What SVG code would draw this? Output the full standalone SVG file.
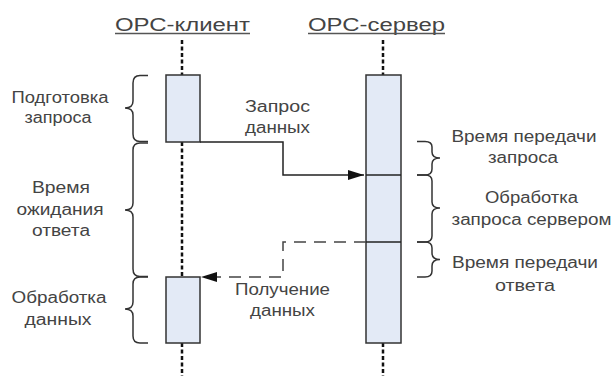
<svg xmlns="http://www.w3.org/2000/svg" width="613" height="376" viewBox="0 0 613 376">
<defs>
<style>
.t{font-family:"Liberation Sans",Arial,sans-serif;font-size:16px;fill:#444;text-anchor:middle}
.h{font-family:"Liberation Sans",Arial,sans-serif;font-size:18px;fill:#444;text-anchor:middle}
.ul{stroke:#555;stroke-width:1.5}
.life{stroke:#111;stroke-width:2.5;stroke-dasharray:4,2.5;fill:none}
.box{fill:#e3eaf6;stroke:#333;stroke-width:1.5}
.brace{fill:none;stroke:#333;stroke-width:1.5}
.msg{fill:none;stroke:#222;stroke-width:1.5}
.dash{fill:none;stroke:#444;stroke-width:1.5;stroke-dasharray:12,8}
</style>
<marker id="ah" viewBox="0 0 16 10" refX="16" refY="5" markerWidth="16" markerHeight="10" markerUnits="userSpaceOnUse" orient="auto">
<path d="M0,0 L16,5 L0,10 Z" fill="#111"/>
</marker>
</defs>
<rect width="613" height="376" fill="#fff"/>

<g id="lifelines">
<line class="life" x1="182" y1="40" x2="182" y2="75"/>
<line class="life" x1="182" y1="142" x2="182" y2="277"/>
<line class="life" x1="182" y1="343" x2="182" y2="376"/>
<line class="life" x1="383" y1="40" x2="383" y2="75"/>
<line class="life" x1="383" y1="343" x2="383" y2="376"/>
</g>

<g id="client-title">
<text class="h" x="182.5" y="31" textLength="135" lengthAdjust="spacingAndGlyphs">ОРС-клиент</text>
<line class="ul" x1="115" y1="33.5" x2="250" y2="33.5"/>
</g>
<g id="server-title">
<text class="h" x="376.5" y="31" textLength="137" lengthAdjust="spacingAndGlyphs">ОРС-сервер</text>
<line class="ul" x1="308" y1="33.5" x2="445" y2="33.5"/>
</g>

<g id="client-box-1"><rect class="box" x="166" y="75" width="34" height="67"/></g>
<g id="client-box-2"><rect class="box" x="166" y="277" width="34" height="66"/></g>
<g id="server-box">
<rect class="box" x="366" y="75" width="35" height="268"/>
<line class="msg" x1="366" y1="175" x2="401" y2="175"/>
<line class="msg" x1="366" y1="242" x2="401" y2="242"/>
</g>

<g id="connectors">
<path class="msg" d="M200,142 H283 V175 H364" marker-end="url(#ah)"/>
<path class="dash" d="M366,242 H283 V277 H201" marker-end="url(#ah)"/>
</g>

<g id="left-braces">
<path class="brace" d="M148,75.5 H140 Q133,75.5 133,83 V101 Q133,108 125,108 Q133,108 133,115 V134 Q133,141.5 140,141.5 H148"/>
<path class="brace" d="M148,143 H140 Q133,143 133,150 V203 Q133,210 125,210 Q133,210 133,217 V269 Q133,276.5 140,276.5 H148"/>
<path class="brace" d="M148,277 H140 Q133,277 133,284 V302 Q133,309 125,309 Q133,309 133,316 V336 Q133,343 140,343 H148"/>
</g>
<g id="right-braces">
<path class="brace" d="M417,141.5 H425 Q432,141.5 432,147 V152 Q432,158 440,158 Q432,158 432,164 V169 Q432,175 425,175 H417"/>
<path class="brace" d="M417,175 H425 Q432,175 432,181 V202 Q432,208 440,208 Q432,208 432,214 V236 Q432,242 425,242 H417"/>
<path class="brace" d="M417,242 H425 Q432,242 432,248 V253 Q432,259.5 440,259.5 Q432,259.5 432,266 V271 Q432,277 425,277 H417"/>
</g>

<g id="label-prep">
<text class="t" x="60" y="102.5" textLength="97" lengthAdjust="spacingAndGlyphs">Подготовка</text>
<text class="t" x="58" y="123" textLength="67" lengthAdjust="spacingAndGlyphs">запроса</text>
</g>
<g id="label-wait">
<text class="t" x="61" y="193" textLength="58" lengthAdjust="spacingAndGlyphs">Время</text>
<text class="t" x="60" y="214.5" textLength="87" lengthAdjust="spacingAndGlyphs">ожидания</text>
<text class="t" x="61" y="235.5" textLength="58" lengthAdjust="spacingAndGlyphs">ответа</text>
</g>
<g id="label-proc">
<text class="t" x="59" y="303" textLength="95" lengthAdjust="spacingAndGlyphs">Обработка</text>
<text class="t" x="58" y="325" textLength="67" lengthAdjust="spacingAndGlyphs">данных</text>
</g>
<g id="label-request">
<text class="t" x="277.5" y="112" textLength="65" lengthAdjust="spacingAndGlyphs">Запрос</text>
<text class="t" x="277.5" y="133" textLength="65" lengthAdjust="spacingAndGlyphs">данных</text>
</g>
<g id="label-receive">
<text class="t" x="282.5" y="294.5" textLength="95" lengthAdjust="spacingAndGlyphs">Получение</text>
<text class="t" x="282.5" y="315.5" textLength="65" lengthAdjust="spacingAndGlyphs">данных</text>
</g>
<g id="label-req-time">
<text class="t" x="524" y="142" textLength="145" lengthAdjust="spacingAndGlyphs">Время передачи</text>
<text class="t" x="523" y="163" textLength="70" lengthAdjust="spacingAndGlyphs">запроса</text>
</g>
<g id="label-server-proc">
<text class="t" x="531.5" y="203" textLength="93" lengthAdjust="spacingAndGlyphs">Обработка</text>
<text class="t" x="531.5" y="225" textLength="160" lengthAdjust="spacingAndGlyphs">запроса сервером</text>
</g>
<g id="label-resp-time">
<text class="t" x="525" y="268" textLength="146" lengthAdjust="spacingAndGlyphs">Время передачи</text>
<text class="t" x="525" y="290.5" textLength="60" lengthAdjust="spacingAndGlyphs">ответа</text>
</g>
</svg>
